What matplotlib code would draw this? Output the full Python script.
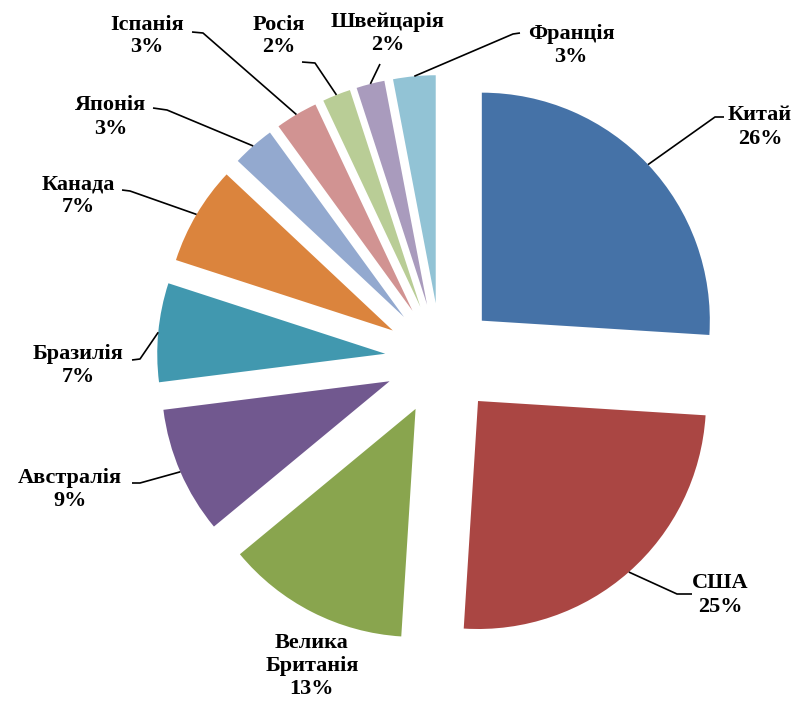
import numpy as np
import matplotlib
matplotlib.use("Agg")
import matplotlib.pyplot as plt

countries = ["Китай", "США", "Велика\nБританія", "Австралія", "Бразилія", "Канада",
             "Японія", "Іспанія", "Росія", "Швейцарія", "Франція"]
shares = [26, 25, 13, 9, 7, 7, 3, 3, 2, 2, 3]
colors = ["#4572A7", "#AA4643", "#89A54E", "#71588F", "#4198AF", "#DB843D",
          "#93A9CF", "#D19392", "#B9CD96", "#A99BBD", "#92C3D5"]

W, H = 797, 708
# label block centres and leader elbows/ends, in pixel coords (y down)
label_pos = [(760, 127), (720, 595), (312, 666), (70, 490), (78, 365), (78, 196),
             (111, 117), (147, 36), (279, 36), (388, 34), (571, 46)]
leader_pts = [[(715, 117), (724, 117)],
              [(677, 594), (692, 594)],
              None,
              [(140, 483), (132, 483)],
              [(140, 359), (132, 360)],
              [(130, 191), (122, 190)],
              [(167, 110), (153, 108)],
              [(203, 33), (192, 32)],
              [(315, 63), (302, 62)],
              [(380, 64)],
              [(513, 34), (520, 33)]]

cx, cy, R = 441, 359, 228
expl = 56  # offset in pixels (pie explode is in data units)

fig = plt.figure(figsize=(W / 100, H / 100), dpi=100)
ax = fig.add_axes([0, 0, 1, 1])
wedges, _ = ax.pie(shares, colors=colors, startangle=90, counterclock=False,
                   explode=[expl] * len(shares), radius=R, center=(cx, H - cy),
                   wedgeprops=dict(linewidth=0))
ax.set_xlim(0, W)
ax.set_ylim(0, H)
ax.set_aspect("equal")
ax.axis("off")

for w, name, val, pos, pts in zip(wedges, countries, shares, label_pos, leader_pts):
    ax.text(pos[0], H - pos[1], f"{name}\n{val}%", ha="center", va="center",
            multialignment="center", fontsize=16, fontweight="bold",
            family="Liberation Serif", color="black", linespacing=1.2)
    if pts is None:
        continue
    mid = np.deg2rad((w.theta1 + w.theta2) / 2)
    x0, y0 = w.center
    sx, sy = x0 + R * np.cos(mid), y0 + R * np.sin(mid)
    xs = [sx] + [p[0] for p in pts]
    ys = [sy] + [H - p[1] for p in pts]
    ax.plot(xs, ys, color="black", lw=1.2, solid_capstyle="butt")

fig.savefig("out.png", dpi=100)
